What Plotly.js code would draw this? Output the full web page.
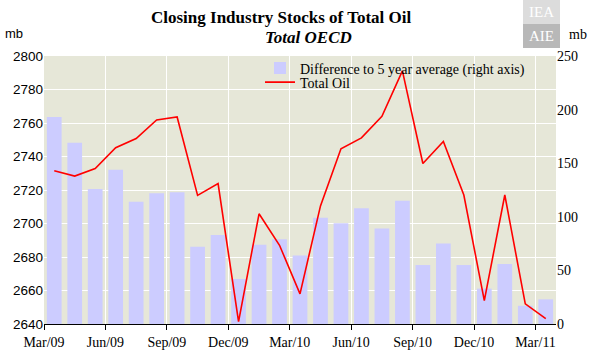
<!DOCTYPE html>
<html>
<head>
<meta charset="utf-8">
<script src="https://cdn.plot.ly/plotly-3.0.1.min.js"></script>
<style>html,body{margin:0;padding:0;background:#fff;}#chart{width:596px;height:356px;}</style>
</head>
<body>
<div id="chart"></div>
<script>
// Months Mar/09 .. Mar/11 (25 monthly points)
const months = ["Mar/09","Apr/09","May/09","Jun/09","Jul/09","Aug/09","Sep/09","Oct/09","Nov/09","Dec/09","Jan/10","Feb/10","Mar/10","Apr/10","May/10","Jun/10","Jul/10","Aug/10","Sep/10","Oct/10","Nov/10","Dec/10","Jan/11","Feb/11","Mar/11"];
// Difference to 5 year average (right axis, mb)
const diff5yr = [193, 169, 126, 144, 114, 122, 123, 72, 83, 42, 74, 79, 64, 99, 94, 108, 89, 115, 55, 75, 55, 33, 56, 17, 23];
// Total Oil (left axis, mb)
const totalOil = [2731.5, 2728.3, 2732.8, 2745.2, 2750.7, 2761.8, 2763.6, 2716.8, 2723.8, 2641.4, 2705.8, 2687, 2658, 2710.5, 2744.6, 2751.1, 2764, 2791.1, 2735.8, 2749, 2717, 2654, 2717, 2652, 2643.2];
// Axis tick labels (quarterly)
const tickLabels = ["Mar/09","Jun/09","Sep/09","Dec/09","Mar/10","Jun/10","Sep/10","Dec/10","Mar/11"];

const idx = months.map((m, i) => i);
const tickPos = tickLabels.map(t => months.indexOf(t) - 0.5);

// plot area in pixels: left 44, right 556, top 56, bottom 324
const L = 44, R = 556, T = 56, B = 324;
const px = x => (x - L) / (R - L);
const py = y => (B - y) / (B - T);

const serif = "Liberation Serif, Times New Roman, serif";
const sans = "Liberation Sans, Arial, sans-serif";
const legendFont = {family: serif, size: 14, color: "#000"};

const traces = [
  {
    type: "bar", x: idx, y: diff5yr, yaxis: "y", legend: "legend",
    name: "Difference to 5 year average (right axis)",
    marker: {color: "#CCCCFF", line: {width: 0}},
    width: 0.72, hoverinfo: "skip"
  },
  {
    type: "scatter", mode: "lines", x: idx, y: totalOil, yaxis: "y2", legend: "legend2",
    name: "Total Oil",
    line: {color: "#FF0000", width: 1.6}, hoverinfo: "skip"
  }
];

const layout = {
  width: 596, height: 356,
  margin: {l: L, r: 596 - R, t: T, b: 356 - B, pad: 0},
  paper_bgcolor: "#ffffff",
  plot_bgcolor: "#E6E7D8",
  showlegend: true,
  legend: {
    x: px(260), y: py(52.5), xanchor: "left", yanchor: "top",
    bgcolor: "rgba(0,0,0,0)", borderwidth: 0, font: legendFont, itemwidth: 30
  },
  legend2: {
    x: px(260), y: py(66.5), xanchor: "left", yanchor: "top",
    bgcolor: "rgba(0,0,0,0)", borderwidth: 0, font: legendFont, itemwidth: 30
  },
  xaxis: {
    range: [-0.5, 24.5],
    tickmode: "array", tickvals: tickPos, ticktext: tickLabels,
    showgrid: true, gridcolor: "#ffffff", gridwidth: 1,
    showline: true, linecolor: "#000", linewidth: 1,
    ticks: "outside", ticklen: 5, tickcolor: "#000", tickwidth: 1,
    tickfont: {family: serif, size: 14, color: "#000"},
    zeroline: false, fixedrange: true
  },
  yaxis: {
    range: [0, 250], side: "right", dtick: 50, tick0: 0,
    showgrid: false, zeroline: false, showline: false,
    ticks: "", ticklen: 0,
    tickfont: {family: serif, size: 14, color: "#000"},
    fixedrange: true
  },
  yaxis2: {
    range: [2640, 2800], side: "left", overlaying: "y", dtick: 20, tick0: 2640,
    showgrid: true, gridcolor: "#ffffff", gridwidth: 1,
    zeroline: false, showline: false, ticks: "",
    tickfont: {family: sans, size: 13.5, color: "#000"},
    fixedrange: true
  },
  shapes: [
    {type: "rect", xref: "paper", yref: "paper", x0: px(523), x1: px(560), y0: py(24), y1: py(0), fillcolor: "#DCDCDC", line: {width: 0}, layer: "above"},
    {type: "rect", xref: "paper", yref: "paper", x0: px(523), x1: px(560), y0: py(48), y1: py(24), fillcolor: "#B8B8B8", line: {width: 0}, layer: "above"}
  ],
  annotations: [
    {text: "<b>Closing Industry Stocks of Total Oil</b>", xref: "paper", yref: "paper", x: px(281), y: py(17), xanchor: "center", yanchor: "middle", showarrow: false, font: {family: serif, size: 17, color: "#000"}},
    {text: "<b><i>Total OECD</i></b>", xref: "paper", yref: "paper", x: px(308), y: py(38), xanchor: "center", yanchor: "middle", showarrow: false, font: {family: serif, size: 17, color: "#000"}},
    {text: "mb", xref: "paper", yref: "paper", x: px(14), y: py(33), xanchor: "center", yanchor: "middle", showarrow: false, font: {family: sans, size: 13, color: "#000"}},
    {text: "mb", xref: "paper", yref: "paper", x: px(578), y: py(34), xanchor: "center", yanchor: "middle", showarrow: false, font: {family: serif, size: 14, color: "#000"}},
    {text: "IEA", xref: "paper", yref: "paper", x: px(541.5), y: py(12), xanchor: "center", yanchor: "middle", showarrow: false, font: {family: serif, size: 15, color: "#ffffff"}},
    {text: "AIE", xref: "paper", yref: "paper", x: px(541.5), y: py(36), xanchor: "center", yanchor: "middle", showarrow: false, font: {family: serif, size: 15, color: "#ffffff"}}
  ]
};

Plotly.newPlot("chart", traces, layout, {displayModeBar: false, staticPlot: true});
</script>
</body>
</html>
